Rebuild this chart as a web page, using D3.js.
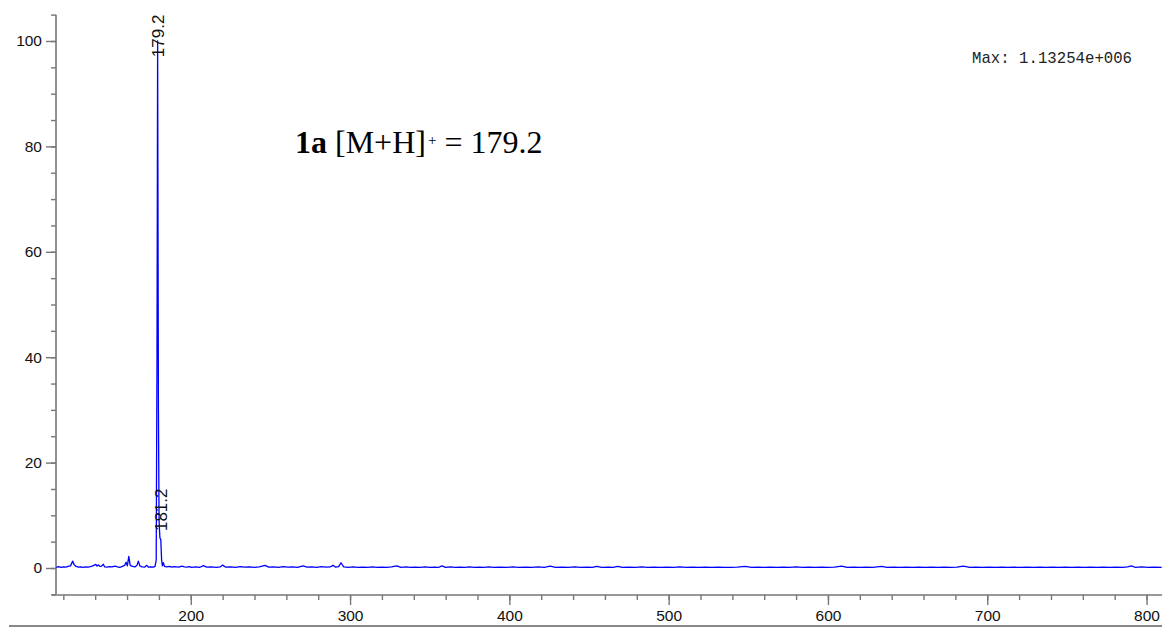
<!DOCTYPE html>
<html>
<head>
<meta charset="utf-8">
<script src="https://cdn.jsdelivr.net/npm/d3@7"></script>
<style>
  body { margin: 0; background: #fff; }
  svg { display: block; }
  .axis text { font-family: "Liberation Sans", Arial, sans-serif; font-size: 15.5px; fill: #111; }
  .axis line { stroke: #777; stroke-width: 1.4; }
  .axis path { display: none; }
</style>
</head>
<body>
<div id="chart"></div>
<script>
// spectrum points [m/z, relative intensity %]
const lowMassPoints = [
  [115.5, 0.1], [117, 0.25], [118.5, 0.1], [120, 0.2], [121.5, 0.15], [123, 0.3],
  [124.5, 0.4], [125.9, 1.3], [126.8, 0.6], [128, 0.3], [129.5, 0.15], [131, 0.2],
  [132.5, 0.1], [134, 0.2], [135.5, 0.15], [137, 0.25], [138.5, 0.4], [140.4, 0.7],
  [141.2, 0.35], [142, 0.6], [143, 0.3], [144, 0.35], [145.1, 0.7], [146, 0.2],
  [147.5, 0.15], [149, 0.25], [150.5, 0.2], [152.5, 0.35], [154, 0.2], [155.5, 0.1],
  [157, 0.3], [158.5, 0.5], [159.4, 1.1], [160.2, 0.4], [161.1, 2.2], [162, 0.5],
  [163.5, 0.3], [165, 0.2], [166.2, 0.5], [167.1, 1.3], [168, 0.4], [169.5, 0.2],
  [171, 0.15], [172.4, 0.5], [173.5, 0.15], [175, 0.2], [176.5, 0.15], [177.6, 0.3]
];

const molecularIonPoints = [
  [178.3, 1.5], [178.8, 40], [179.2, 100], [179.7, 30], [180.1, 9], [180.6, 5.8],
  [181.2, 5.3], [181.7, 1.5], [182.2, 0.4], [182.8, 1.0], [183.5, 0.3], [185, 0.2],
  [186.5, 0.3], [188, 0.15], [189.5, 0.25], [191, 0.2], [192.5, 0.15], [194.4, 0.35],
  [196, 0.2], [197.5, 0.15], [199, 0.25]
];

const noisePoints = [
  [200.5, 0.1], [203, 0.2], [205.5, 0.1], [207.9, 0.45], [210, 0.15], [213, 0.2],
  [216, 0.1], [218.5, 0.2], [220, 0.55], [222, 0.15], [225, 0.2], [228, 0.1],
  [231, 0.25], [234, 0.15], [237, 0.2], [240, 0.1], [243, 0.2], [246.6, 0.5],
  [249, 0.15], [252, 0.2], [255, 0.1], [258, 0.25], [261, 0.15], [264, 0.2],
  [267, 0.1], [270.5, 0.4], [273, 0.15], [276, 0.2], [279, 0.1], [282, 0.25],
  [285, 0.15], [287.5, 0.2], [289.3, 0.5], [291, 0.15], [292.8, 0.25], [294.3, 1.0],
  [296, 0.2], [299, 0.1], [302, 0.2], [305, 0.1], [308, 0.15], [311, 0.1],
  [314, 0.2], [317, 0.1], [320, 0.15], [323, 0.1], [326, 0.2], [329.3, 0.4],
  [332, 0.1], [335, 0.2], [338, 0.1], [341, 0.15], [344, 0.1], [347, 0.2],
  [350, 0.1], [353, 0.15], [355.5, 0.1], [357.6, 0.4], [360, 0.1], [363, 0.2],
  [366, 0.1], [369, 0.15], [372, 0.1], [375, 0.2], [378, 0.1], [381, 0.15],
  [384, 0.1], [387, 0.2], [390, 0.1], [394, 0.15], [398, 0.1], [402, 0.2],
  [406, 0.1], [410, 0.15], [414, 0.1], [418, 0.2], [422, 0.1], [425.6, 0.35],
  [429, 0.1], [433, 0.15], [437, 0.1], [441, 0.2], [445, 0.1], [449, 0.15],
  [452, 0.1], [454.9, 0.3], [458, 0.1], [462, 0.15], [465, 0.1], [468, 0.3],
  [471, 0.1], [475, 0.15], [479, 0.1], [483, 0.2], [487, 0.1], [491, 0.15],
  [495, 0.1], [499, 0.15], [503, 0.1], [507, 0.2], [511, 0.1], [515, 0.15],
  [519, 0.1], [523, 0.15], [527, 0.1], [531, 0.15], [535, 0.1], [539, 0.1],
  [543, 0.15], [548, 0.3], [552, 0.1], [556, 0.15], [560, 0.1], [564, 0.15],
  [568, 0.1], [572, 0.15], [576, 0.1], [580, 0.2], [584, 0.1], [588, 0.15],
  [592, 0.1], [596, 0.15], [600, 0.1], [604, 0.15], [608.6, 0.35], [612, 0.1],
  [616, 0.15], [620, 0.1], [624, 0.15], [628, 0.1], [633.8, 0.3], [637, 0.1],
  [641, 0.15], [645, 0.1], [649, 0.15], [653, 0.1], [657, 0.15], [661, 0.1],
  [665, 0.15], [669, 0.1], [673, 0.15], [677, 0.1], [681, 0.15], [685, 0.35],
  [689, 0.1], [693, 0.15], [697, 0.1], [701, 0.15], [705, 0.1], [709, 0.15],
  [713, 0.1], [717, 0.15], [721, 0.1], [725, 0.15], [729, 0.1], [733, 0.15],
  [737, 0.1], [741, 0.15], [745, 0.1], [749, 0.15], [753, 0.1], [757, 0.15],
  [761, 0.1], [765, 0.15], [769, 0.1], [773, 0.15], [777, 0.1], [781, 0.15],
  [785, 0.1], [788, 0.2], [790.7, 0.4], [793, 0.1], [797, 0.2], [801, 0.1],
  [805, 0.15], [809.5, 0.1]
];

const peakLabels = [[179.2, 100], [181.2, 5.3]];

const yMajorTicks = [0, 20, 40, 60, 80, 100];
const xMajorTicks = [200, 300, 400, 500, 600, 700, 800];

const maxLabel = "Max: 1.13254e+006";

const width = 1162, height = 627;

const svg = d3.select("#chart")
  .append("svg")
  .attr("width", width)
  .attr("height", height);

const x = d3.scaleLinear().domain([115.4, 809.7]).range([56, 1162]);
const y = d3.scaleLinear().domain([0, 100]).range([568, 41]);
const axisY = 595;

/********** y axis **********/
svg.append("line")
  .attr("x1", 56).attr("x2", 56)
  .attr("y1", y(105)).attr("y2", y(-5))
  .attr("stroke", "#777").attr("stroke-width", 1.6);

svg.append("g")
  .attr("class", "axis")
  .attr("transform", "translate(56,0)")
  .call(d3.axisLeft(y).tickValues(d3.range(-5, 106, 5)).tickSize(5).tickFormat(""));

svg.append("g")
  .attr("class", "axis")
  .attr("transform", "translate(56,0)")
  .call(d3.axisLeft(y).tickValues(yMajorTicks).tickSize(10).tickPadding(4));

/********** x axis **********/
svg.append("line")
  .attr("x1", 52).attr("x2", width)
  .attr("y1", axisY).attr("y2", axisY)
  .attr("stroke", "#777").attr("stroke-width", 1.6);

svg.append("g")
  .attr("class", "axis")
  .attr("transform", "translate(0," + axisY + ")")
  .call(d3.axisBottom(x).tickValues(d3.range(120, 810, 20)).tickSize(5).tickFormat(""));

svg.append("g")
  .attr("class", "axis")
  .attr("transform", "translate(0," + axisY + ")")
  .call(d3.axisBottom(x).tickValues(xMajorTicks).tickSize(10).tickPadding(5));

svg.append("line")
  .attr("x1", 9).attr("x2", width)
  .attr("y1", 626).attr("y2", 626)
  .attr("stroke", "#888").attr("stroke-width", 2);

/********** spectrum trace **********/
const points = lowMassPoints.concat(molecularIonPoints, noisePoints)
  .sort((a, b) => a[0] - b[0]);

svg.append("clipPath").attr("id", "plot-clip")
  .append("rect")
  .attr("x", 56).attr("y", 0)
  .attr("width", width - 56).attr("height", axisY);

const line = d3.line()
  .x(d => x(d[0]))
  .y(d => y(d[1]));

svg.append("path")
  .datum(points)
  .attr("clip-path", "url(#plot-clip)")
  .attr("d", line)
  .attr("fill", "none")
  .attr("stroke", "#0000ff")
  .attr("stroke-width", 1.3)
  .attr("stroke-linejoin", "round");

/********** peak labels **********/
peakLabels.forEach(p => {
  const t = svg.append("text")
    .attr("font-family", "Liberation Sans, Arial, sans-serif")
    .attr("font-size", 17)
    .attr("fill", "#111")
    .attr("text-anchor", "start")
    .attr("dy", "0.36em")
    .text(p[0].toFixed(1));
  const len = t.node().getComputedTextLength();
  const start = Math.max(y(p[1]) - 9, y(105) + len);
  t.attr("transform", "translate(" + x(p[0]) + "," + start + ") rotate(-90)");
});

/********** annotations **********/
const note = svg.append("text")
  .attr("x", 295)
  .attr("y", 153)
  .attr("font-family", "Liberation Serif, Times New Roman, serif")
  .attr("font-size", 32)
  .attr("fill", "#000");
note.append("tspan").attr("font-weight", "bold").text("1a");
note.append("tspan").text(" [M+H]");
note.append("tspan").attr("font-size", 15).attr("dx", 2).attr("dy", -8).text("+");
note.append("tspan").attr("dy", 8).text(" = 179.2");

svg.append("text")
  .attr("x", 972)
  .attr("y", 63)
  .attr("font-family", "Liberation Mono, Courier New, monospace")
  .attr("font-size", 15.7)
  .attr("fill", "#222")
  .text(maxLabel);
</script>
</body>
</html>
